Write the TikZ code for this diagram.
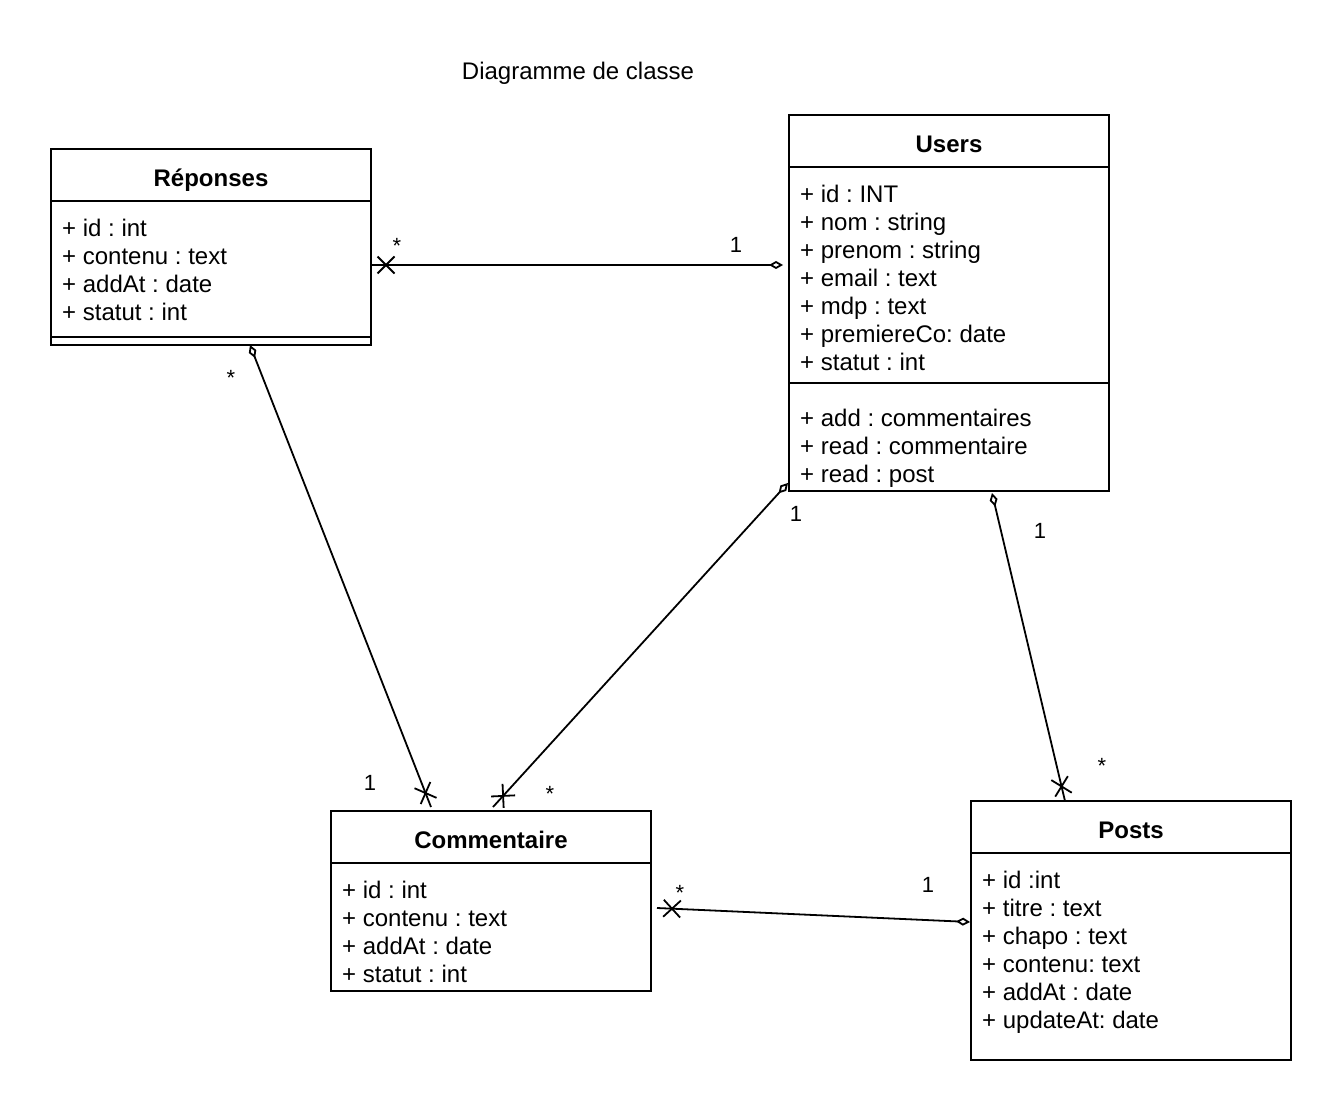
\documentclass[tikz,border=0pt]{standalone}
\usepackage{fontspec}
\setmainfont{Liberation Sans}
\usetikzlibrary{arrows.meta,calc,decorations.markings}
\frenchspacing

\begin{document}
\begin{tikzpicture}[x=1pt,y=-1pt,
  box/.style={draw, line width=2pt, rectangle, outer sep=0pt, inner sep=0pt, anchor=north west},
  sep/.style={line width=2pt},
  head/.style={anchor=base, inner sep=0pt, font=\fontsize{24}{28}\selectfont\bfseries},
  attr/.style={anchor=base west, inner sep=0pt, font=\fontsize{24}{28}\selectfont},
  mult/.style={anchor=base, inner sep=0pt, font=\fontsize{22}{26}\selectfont},
  assoc/.style={line width=1.8pt, -{Diamond[open,length=14pt,width=8pt]},
    postaction={decorate},
    decoration={markings, mark=at position 15pt with
      {\draw[-, line width=1.8pt] (-8.5pt,-8.5pt) -- (8.5pt,8.5pt) (-8.5pt,8.5pt) -- (8.5pt,-8.5pt);}}}
]
\useasboundingbox (0,0) rectangle (1342,1118);

% title
\node[anchor=base, inner sep=0pt, font=\fontsize{24}{28}\selectfont] (title) at (578,80) {Diagramme de classe};

% Réponses
\node[box, minimum width=320pt, minimum height=196pt] (rep) at (51,149) {};
\draw[sep] ($(rep.north west)+(0,52)$) -- ($(rep.north east)+(0,52)$);
\draw[sep] ($(rep.north west)+(0,188)$) -- ($(rep.north east)+(0,188)$);
\node[head] (repT) at ($(rep.north)+(0,37.5)$) {Réponses};
\node[attr] (rep1) at ($(rep.north west)+(11,87.5)$) {+ id : int};
\node[attr] (rep2) at ($(rep.north west)+(11,115.5)$) {+ contenu : text};
\node[attr] (rep3) at ($(rep.north west)+(11,143.5)$) {+ addAt : date};
\node[attr] (rep4) at ($(rep.north west)+(11,171.5)$) {+ statut : int};

% Users
\node[box, minimum width=320pt, minimum height=376pt] (users) at (789,115) {};
\draw[sep] ($(users.north west)+(0,52)$) -- ($(users.north east)+(0,52)$);
\draw[sep] ($(users.north west)+(0,268)$) -- ($(users.north east)+(0,268)$);
\node[head] (usersT) at ($(users.north)+(0,37.5)$) {Users};
\node[attr] (u1) at ($(users.north west)+(11,87.5)$) {+ id : INT};
\node[attr] (u2) at ($(users.north west)+(11,115.5)$) {+ nom : string};
\node[attr] (u3) at ($(users.north west)+(11,143.5)$) {+ prenom : string};
\node[attr] (u4) at ($(users.north west)+(11,171.5)$) {+ email : text};
\node[attr] (u5) at ($(users.north west)+(11,199.5)$) {+ mdp : text};
\node[attr] (u6) at ($(users.north west)+(11,227.5)$) {+ premiereCo: date};
\node[attr] (u7) at ($(users.north west)+(11,255.5)$) {+ statut : int};
\node[attr] (u8) at ($(users.north west)+(11,311.5)$) {+ add : commentaires};
\node[attr] (u9) at ($(users.north west)+(11,339.5)$) {+ read : commentaire};
\node[attr] (u10) at ($(users.north west)+(11,367.5)$) {+ read : post};

% Commentaire
\node[box, minimum width=320pt, minimum height=180pt] (com) at (331,811) {};
\draw[sep] ($(com.north west)+(0,52)$) -- ($(com.north east)+(0,52)$);
\node[head] (comT) at ($(com.north)+(0,37.5)$) {Commentaire};
\node[attr] (c1) at ($(com.north west)+(11,87.5)$) {+ id : int};
\node[attr] (c2) at ($(com.north west)+(11,115.5)$) {+ contenu : text};
\node[attr] (c3) at ($(com.north west)+(11,143.5)$) {+ addAt : date};
\node[attr] (c4) at ($(com.north west)+(11,171.5)$) {+ statut : int};

% Posts
\node[box, minimum width=320pt, minimum height=259pt] (posts) at (971,801) {};
\draw[sep] ($(posts.north west)+(0,52)$) -- ($(posts.north east)+(0,52)$);
\node[head] (postsT) at ($(posts.north)+(0,37.5)$) {Posts};
\node[attr] (p1) at ($(posts.north west)+(11,87.5)$) {+ id :int};
\node[attr] (p2) at ($(posts.north west)+(11,115.5)$) {+ titre : text};
\node[attr] (p3) at ($(posts.north west)+(11,143.5)$) {+ chapo : text};
\node[attr] (p4) at ($(posts.north west)+(11,171.5)$) {+ contenu: text};
\node[attr] (p5) at ($(posts.north west)+(11,199.5)$) {+ addAt : date};
\node[attr] (p6) at ($(posts.north west)+(11,227.5)$) {+ updateAt: date};

% associations (cross at the many side, open diamond at the one side)
\draw[assoc] ($(rep.north east)+(0,116)$) -- ($(users.north west)+(-6,150)$);
\draw[assoc] ($(com.north west)+(100,-4)$) -- ($(rep.south west)+(199,0)$);
\draw[assoc] ($(com.north west)+(162,-4)$) -- ($(users.south west)+(-1,-8)$);
\draw[assoc] ($(posts.north west)+(94,0)$) -- ($(users.south west)+(203,2)$);
\draw[assoc] ($(com.north east)+(6,97)$) -- ($(posts.north west)+(-1,121)$);

% multiplicities
\node[mult] (m1a) at (397,254) {*};
\node[mult] (m1b) at (736,253) {1};
\node[mult] (m2a) at (231,385) {*};
\node[mult] (m2b) at (370,790) {1};
\node[mult] (m3a) at (796,521) {1};
\node[mult] (m3b) at (550,801) {*};
\node[mult] (m4a) at (1040,538) {1};
\node[mult] (m4b) at (1102,773) {*};
\node[mult] (m5a) at (680,900) {*};
\node[mult] (m5b) at (928,892) {1};
\end{tikzpicture}
\end{document}
